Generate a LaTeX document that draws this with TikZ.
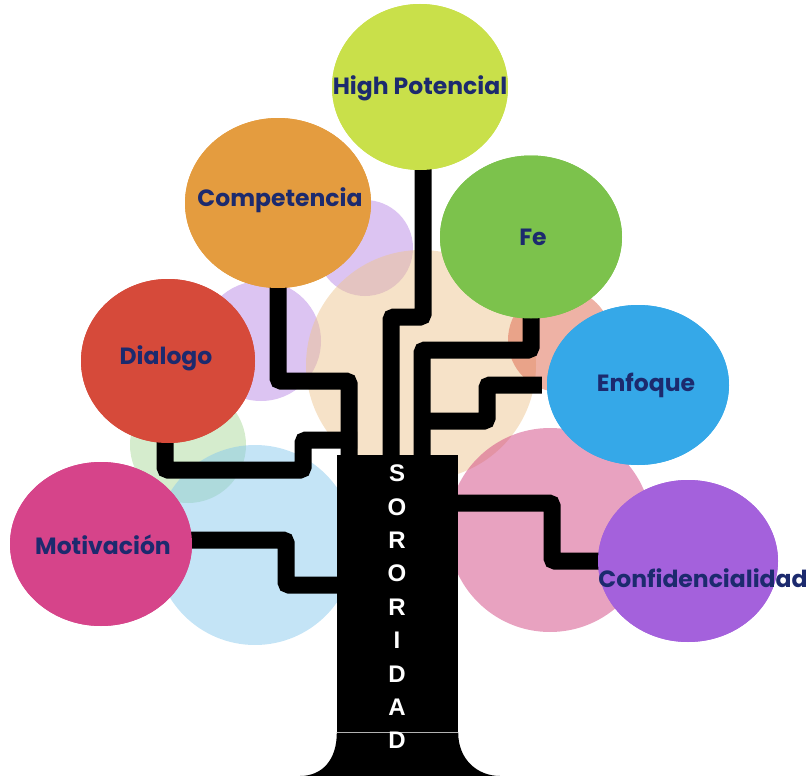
\documentclass[tikz,border=0pt]{standalone}
\usepackage{fontspec}
\usepackage{xcolor}
\usetikzlibrary{shapes.geometric}
\newfontfamily\treefont{Poppins}
\newfontfamily\trunkfont{Liberation Sans}

\definecolor{navy}{HTML}{1C2A6E}
\definecolor{hpcol}{HTML}{C9E04A}
\definecolor{cpcol}{HTML}{E49C3F}
\definecolor{fecol}{HTML}{7CC24C}
\definecolor{dlcol}{HTML}{D64A3A}
\definecolor{encol}{HTML}{35A8E8}
\definecolor{mocol}{HTML}{D6448A}
\definecolor{cfcol}{HTML}{A461DC}
\definecolor{lilac}{HTML}{B989E5}
\definecolor{peach}{HTML}{EDC591}
\definecolor{salmon}{HTML}{DD654B}
\definecolor{rose}{HTML}{D14581}
\definecolor{leaf}{HTML}{ABD99B}
\definecolor{sky}{HTML}{89C9ED}

\begin{document}
\begin{tikzpicture}[x=1pt,y=-1pt]
\tikzstyle{ball}=[ellipse, inner sep=0pt, minimum width=182pt, minimum height=164pt]
\tikzstyle{soft}=[fill opacity=0.5]
\tikzstyle{lbl}=[text=navy, inner sep=0pt, font=\treefont\bfseries\fontsize{23.5}{23.5}\selectfont]
\tikzstyle{branch}=[line width=17pt, rounded corners=3pt]
\tikzstyle{letter}=[text=white, inner sep=0pt, font=\trunkfont\bfseries\fontsize{24}{24}\selectfont]
\useasboundingbox (0,0) rectangle (809,776);

\fill[soft, lilac] (365,248) circle (48pt);
\fill[soft, lilac] (261,341) circle (60pt);
\fill[soft, peach] (421,365) circle (115pt);
\fill[soft, salmon] (560,340) circle (52pt);
\fill[soft, rose] (550,530) circle (102pt);
\fill[soft, leaf] (188,445) circle (58pt);
\fill[soft, sky] (255,545) circle (100pt);

\node[fill=black, inner sep=0pt, minimum width=121pt, minimum height=277pt] (trunk) at (397.5,593.5) {};
\fill (trunk.south west) .. controls (337,760) and (322,776) .. (300,776)
  -- (500,776) .. controls (478,776) and (458,760) .. (trunk.south east) -- cycle;
\draw[gray!60, line width=0.7pt] (trunk.south west) -- (trunk.south east);

\node[ball, fill=hpcol, minimum width=176pt, minimum height=166pt] (hp) at (420,87) {};
\node[ball, fill=cpcol, minimum width=186pt, minimum height=170pt] (cp) at (278,203) {};
\node[ball, fill=fecol, minimum height=163pt] (fe) at (531,237) {};
\node[ball, fill=dlcol, minimum width=174pt] (dl) at (168,361) {};
\node[ball, fill=encol, minimum height=160pt] (en) at (638,385) {};
\node[ball, fill=mocol] (mo) at (101,544) {};
\node[ball, fill=cfcol, minimum width=180pt, minimum height=162pt] (cf) at (688,561) {};

\draw[branch] ([xshift=3pt,yshift=5pt]hp.south) -- (423,317) -- (391,317) -- (391,0 |- trunk.north);
\draw[branch] ([yshift=5pt]cp.south) -- (278,381) -- (349,381) -- (349,0 |- trunk.north);
\draw[branch] ([yshift=5pt]fe.south) -- (531,350) -- (422,350) -- (422,0 |- trunk.north);
\draw[branch] ([xshift=-5pt]en.west) -- (487,385) -- (487,421) -- (414,421);
\draw[branch] ([xshift=-3pt,yshift=5pt]dl.south) -- (165,470) -- (303,470) -- (303,440) -- (357,440);
\draw[branch] ([xshift=-5pt,yshift=4pt]mo.east) -- (286,540) -- (286,585) -- (trunk.west |- 0,585);
\draw[branch] (trunk.east |- 0,503) -- (552,503) -- (552,561) -- ([xshift=5pt]cf.west);

\node[ball, fill=hpcol, minimum width=176pt, minimum height=166pt] at (hp) {};
\node[ball, fill=cpcol, minimum width=186pt, minimum height=170pt] at (cp) {};
\node[ball, fill=fecol, minimum height=163pt] at (fe) {};
\node[ball, fill=dlcol, minimum width=174pt] at (dl) {};
\node[ball, fill=encol, minimum height=160pt] at (en) {};
\node[ball, fill=mocol] at (mo) {};
\node[ball, fill=cfcol, minimum width=180pt, minimum height=162pt] at (cf) {};

\node[lbl] (hp-t) at (420,88) {High Potencial};
\node[lbl] (cp-t) at (280,200) {Competencia};
\node[lbl] (fe-t) at (533,237) {Fe};
\node[lbl] (dl-t) at (166,358) {Dialogo};
\node[lbl] (en-t) at (646,385) {Enfoque};
\node[lbl] (mo-t) at (103,545) {Motivación};
\node[lbl] (cf-t) at (703,578) {Confidencialidad};

\foreach \l [count=\i] in {S,O,R,O,R,I,D,A,D}
  \node[letter] (l\i) at (397,440+33.4*\i) {\l};
\end{tikzpicture}
\end{document}
